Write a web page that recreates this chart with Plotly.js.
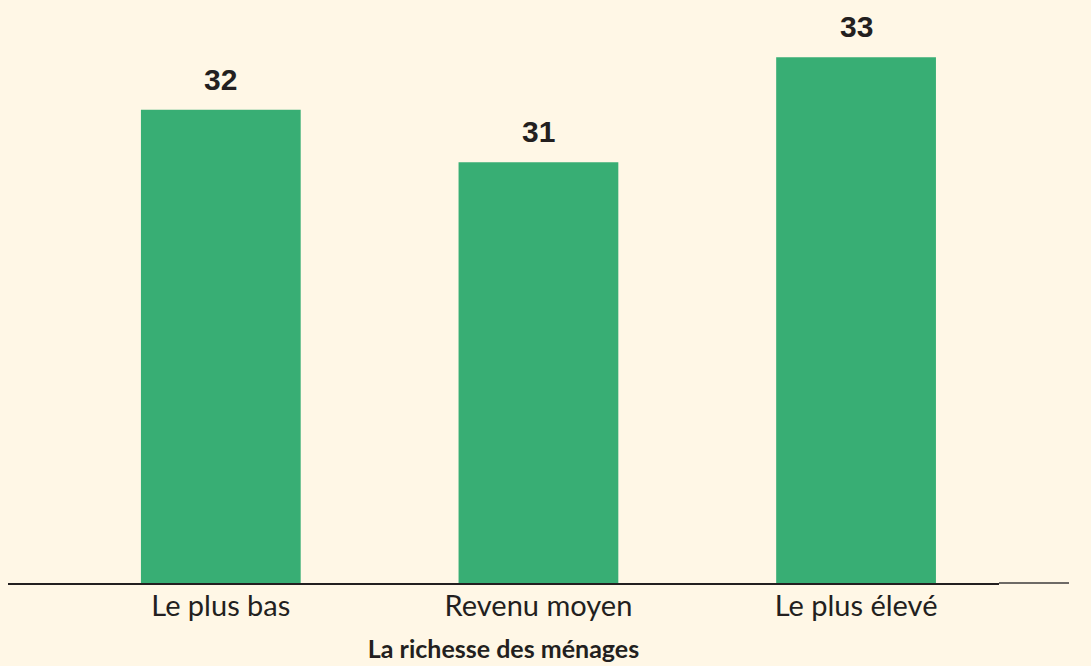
<!DOCTYPE html>
<html>
<head>
<meta charset="utf-8">
<script src="https://cdn.plot.ly/plotly-3.0.1.min.js"></script>
<style>
  html, body { margin: 0; padding: 0; background: #FFF7E6; }
  #chart { width: 1091px; height: 666px; }
</style>
</head>
<body>
<div id="chart"></div>
<script>
const categories = ["Le plus bas", "Revenu moyen", "Le plus élevé"];
const values = [32, 31, 33];
const valueLabels = ["32", "31", "33"];
const xAxisTitle = "La richesse des ménages";

const textColor = "#231F20";

const trace = {
  type: "bar",
  x: categories,
  y: values,
  marker: { color: "#38AE74" },
  width: 0.503,
  hoverinfo: "none"
};

const annotations = categories.map((c, i) => ({
  x: c,
  y: values[i],
  xref: "x",
  yref: "y",
  text: valueLabels[i],
  showarrow: false,
  yanchor: "bottom",
  yshift: 12,
  font: { family: "Liberation Sans, Arial, sans-serif", size: 30, color: textColor, weight: "bold" }
}));

const layout = {
  width: 1091,
  height: 666,
  paper_bgcolor: "#FFF7E6",
  plot_bgcolor: "#FFF7E6",
  margin: { l: 8, r: 92, t: 10, b: 83 },
  showlegend: false,
  xaxis: {
    type: "category",
    range: [-0.67, 2.45],
    showline: true,
    linecolor: "#231F20",
    linewidth: 2,
    ticks: "",
    ticklabelstandoff: -4,
    showgrid: false,
    zeroline: false,
    tickfont: { family: "Lato, sans-serif", size: 29, color: textColor },
    title: {
      text: xAxisTitle,
      font: { family: "Lato, sans-serif", size: 25, color: textColor, weight: "bold" },
      standoff: 20
    }
  },
  yaxis: {
    range: [22.98, 33.9],
    visible: false,
    showgrid: false,
    zeroline: false,
    fixedrange: true
  },
  annotations: annotations,
  shapes: [{
    type: "line",
    xref: "paper",
    yref: "paper",
    x0: 1, x1: (1069 - 8) / 991,
    y0: 0, y1: 0,
    line: { color: "#6E6A66", width: 2 }
  }]
};

Plotly.newPlot("chart", [trace], layout, { displayModeBar: false, staticPlot: true });
</script>
</body>
</html>
